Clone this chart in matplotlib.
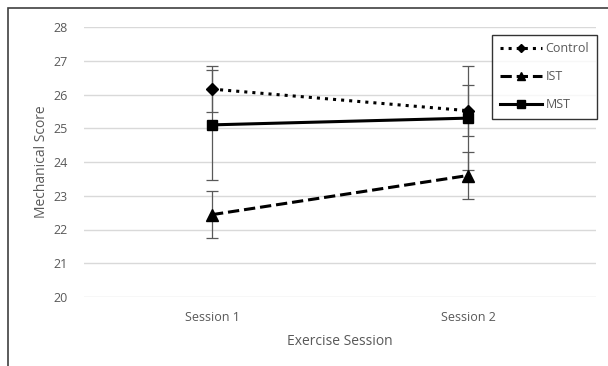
import matplotlib.pyplot as plt
from matplotlib.patches import Rectangle

# data
sessions = ["Session 1", "Session 2"]
control = [26.16, 25.52]
control_err = [0.68, 0.75]
ist = [22.44, 23.6]
ist_err = [0.7, 0.7]
mst = [25.1, 25.3]
mst_err = [1.62, 1.55]

plt.rcParams['font.family'] = ['Open Sans', 'DejaVu Sans']
TXT = '#595959'

fig = plt.figure(figsize=(6.08, 3.66), dpi=100)
ax = fig.add_axes([84 / 608, 1 - 297 / 366, 512 / 608, 270 / 366])

x = [0.5, 1.5]
series = [
    ("Control", control, control_err, ':', 'D', 6.5),
    ("IST", ist, ist_err, '--', '^', 8.5),
    ("MST", mst, mst_err, '-', 's', 7.5),
]
for name, vals, errs, ls, mk, ms in series:
    ax.errorbar(x, vals, yerr=errs, fmt='none', ecolor='#595959', elinewidth=0.9,
                capsize=4, capthick=0.9, zorder=2)
    ax.plot(x, vals, color='black', linestyle=ls, linewidth=2.2, marker=mk,
            markersize=ms, label=name, zorder=3)

ax.set_xlim(0, 2)
ax.set_ylim(20, 28)
ax.set_yticks(range(20, 29))
ax.set_xticks(x)
ax.set_xticklabels(sessions)
ax.grid(axis='y', color='#d9d9d9', linewidth=1)
ax.set_axisbelow(True)
for s in ax.spines.values():
    s.set_visible(False)
ax.tick_params(length=0, colors=TXT, labelsize=9)
ax.tick_params(axis='y', pad=12)
ax.tick_params(axis='x', pad=10)
ax.set_xlabel("Exercise Session", color=TXT, fontsize=10, labelpad=7)
ax.set_ylabel("Mechanical Score", color=TXT, fontsize=10, labelpad=3)

leg = ax.legend(loc='upper left', bbox_to_anchor=(492 / 608, 1 - 35 / 366),
                bbox_transform=fig.transFigure, fontsize=9, frameon=True,
                fancybox=False, edgecolor='black', handlelength=3.4,
                labelspacing=1.2, borderpad=0.6, handletextpad=0.3,
                markerscale=0.7, borderaxespad=0)
leg.get_frame().set_linewidth(1.0)
for t in leg.get_texts():
    t.set_color(TXT)

# outer chart border
fig.patches.append(Rectangle((8 / 608, -0.1), 1.1, 1 - 8 / 366 + 0.1,
                             transform=fig.transFigure, fill=False,
                             edgecolor='#404040', linewidth=1.2))

fig.savefig("out.png", dpi=100)
